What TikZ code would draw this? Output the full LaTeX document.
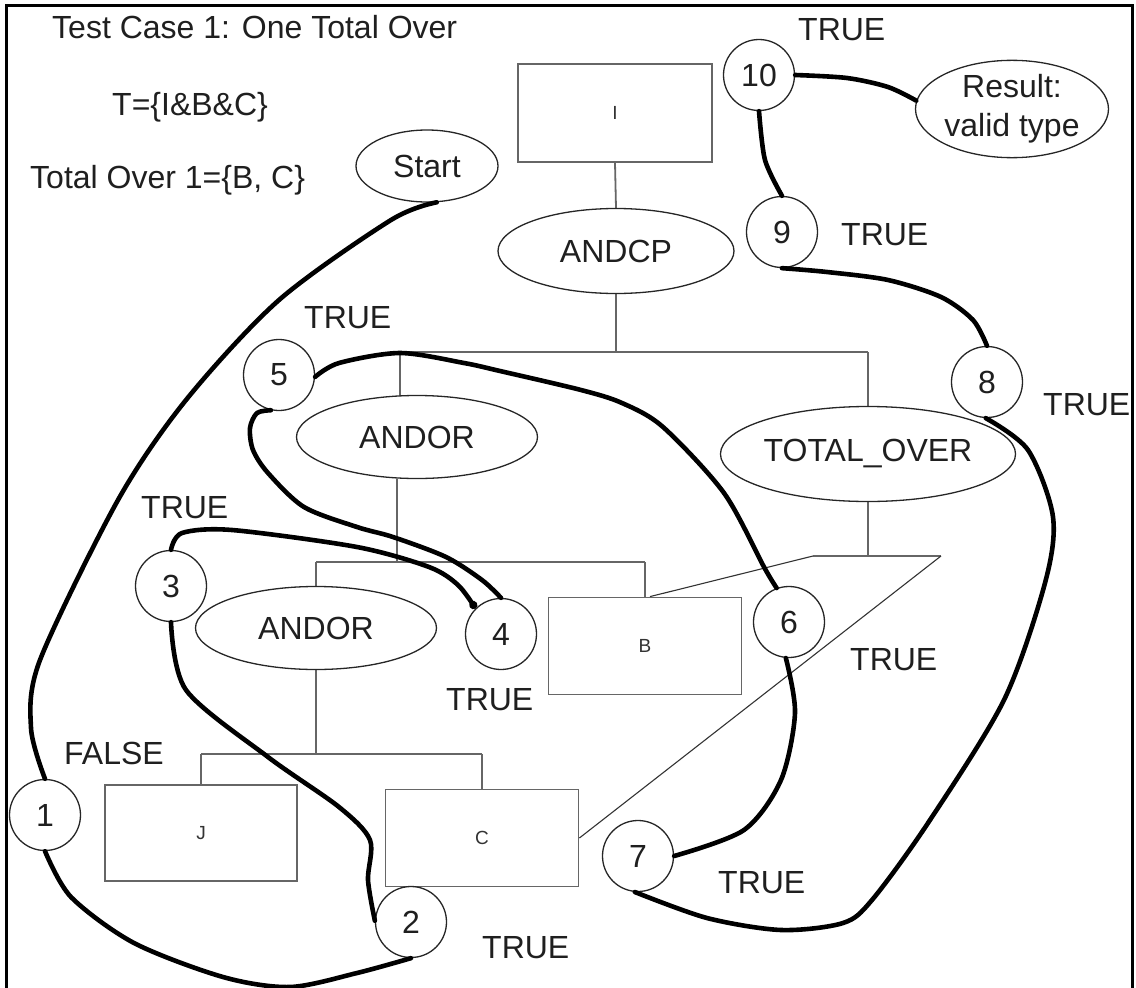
\documentclass[tikz,border=0pt]{standalone}
\usepackage{fontspec}
\setmainfont{Liberation Sans}
\usetikzlibrary{shapes.geometric,backgrounds,arrows.meta}
\begin{document}
\begin{tikzpicture}[x=1pt,y=-1pt,
  lbl/.style={font=\fontsize{32}{37}\selectfont, text=black!88, inner sep=0pt, anchor=base west},
  oval/.style={ellipse, draw=black!85, line width=1.3pt, fill=white, inner sep=0pt,
    text=black!88, font=\fontsize{32}{37}\selectfont},
  stepnum/.style={circle, draw=black!85, line width=1.3pt, fill=white, minimum size=71pt,
    inner sep=0pt, text=black!88, font=\fontsize{32}{37}\selectfont},
  leafbox/.style={rectangle, draw=black!60, line width=1.8pt, fill=white, inner sep=0pt,
    text=black!80, font=\fontsize{19}{22}\selectfont},
  tree/.style={draw=black!60, line width=1.8pt},
  guide/.style={draw=black!80, line width=1.1pt},
  trail/.style={line width=4.6pt, line cap=round, line join=round, black},
]
\useasboundingbox (0,0) rectangle (1136,988);

% frame
\draw[line width=3pt] (6,995) -- (6,5) -- (1132,5) -- (1132,995);

% heading texts
\node[lbl] (title) at (52,38) {Test Case 1: One Total Over};
\node[lbl] (tset) at (112,115) {T=\{I\&B\&C\}};
\node[lbl] (tover) at (30,188) {Total Over 1=\{B, C\}};

% type tree
\node[leafbox, minimum width=194pt, minimum height=98pt] (irect) at (615,113) {I};
\node[oval, minimum width=236pt, minimum height=85pt] (andcp) at (616,251) {ANDCP};
\node[oval, minimum width=241pt, minimum height=83pt] (andorA) at (417,437) {ANDOR};
\node[oval, minimum width=240pt, minimum height=95pt] (totover) at (868,454) {TOTAL\_OVER};
\node[oval, minimum width=241pt, minimum height=83pt] (andorB) at (316,628) {ANDOR};
\node[leafbox, minimum width=193pt, minimum height=97pt] (rectB) at (645,646) {B};
\node[leafbox, minimum width=192pt, minimum height=96pt] (rectJ) at (201,833) {J};
\node[leafbox, minimum width=193pt, minimum height=97pt] (rectC) at (482,838) {C};

% start and result
\node[oval, minimum width=142pt, minimum height=72pt] (start) at (427,166) {Start};
\node[oval, minimum width=193pt, minimum height=92pt, align=center,
  font=\fontsize{32}{39}\selectfont] (result) at (1012,109) {Result:\\valid type};

% evaluation steps
\node[stepnum] (c1) at (45,815) {1};
\node[stepnum] (c2) at (411,922) {2};
\node[stepnum] (c3) at (171,586) {3};
\node[stepnum] (c4) at (501,634) {4};
\node[stepnum] (c5) at (279,375) {5};
\node[stepnum] (c6) at (789,622) {6};
\node[stepnum] (c7) at (638,856) {7};
\node[stepnum] (c8) at (987,382) {8};
\node[stepnum] (c9) at (782,232) {9};
\node[stepnum] (c10) at (759,75) {10};

% step outcomes
\node[lbl] (v10) at (798,40) {TRUE};
\node[lbl] (v9) at (841,245) {TRUE};
\node[lbl] (v5) at (304,328) {TRUE};
\node[lbl] (v8) at (1043,415) {TRUE};
\node[lbl] (v3) at (141,518) {TRUE};
\node[lbl] (v4) at (446,710) {TRUE};
\node[lbl] (v6) at (850,670) {TRUE};
\node[lbl] (v1) at (64,764) {FALSE};
\node[lbl] (v7) at (718,893) {TRUE};
\node[lbl] (v2) at (482,958) {TRUE};

% bus junctions of the tree
\coordinate (busA) at (616,352);
\coordinate (busAl) at (400,352);
\coordinate (busAr) at (868,352);
\coordinate (busBm) at (397,562);
\coordinate (busBl) at (316,562);
\coordinate (busBr) at (645,562);
\coordinate (busCm) at (316,754);
\coordinate (busCl) at (201,754);
\coordinate (busCr) at (482,754);
\coordinate (busDm) at (868,556);
\coordinate (busDl) at (813,556);
\coordinate (busDr) at (941,556);

\begin{pgfonlayer}{background}
  \draw[tree] (irect.south) -- (andcp.north);
  \draw[tree] (andcp.south) -- (busA);
  \draw[tree] (busAl) -- (busAr);
  \draw[tree] (busAl) -- (busAl |- andorA.center);
  \draw[tree] (busAr) -- (totover.north);
  \draw[tree] (andorA.south -| busBm) -- (busBm);
  \draw[tree] (busBl) -- (busBr);
  \draw[tree] (busBl) -- (andorB.north);
  \draw[tree] (busBr) -- (rectB.north);
  \draw[tree] (andorB.south) -- (busCm);
  \draw[tree] (busCl) -- (busCr);
  \draw[tree] (busCl) -- (rectJ.north);
  \draw[tree] (busCr) -- (rectC.north);
  \draw[tree] (totover.south) -- (busDm);
  \draw[tree] (busDl) -- (busDr);
  \draw[guide] (busDl) -- ([xshift=5pt]rectB.north);
  \draw[guide] (busDr) -- (rectC.east);
\end{pgfonlayer}

% evaluation trail
\draw[trail] plot[smooth] coordinates {(c1.north) (31,728) (40,660) (118,500) (186,400) (279,300) (391,220) (start.-75)};
\draw[trail] plot[smooth] coordinates {(c1.south) (71,897) (134,943) (223,977) (290,987) (357,973) (c2.south)};
\draw[trail] plot[smooth] coordinates {(c3.south) (186,690) (268,757) (339,807) (370,840) (368,880) (c2.178)};
\draw[trail, -{Circle[length=8pt]}] plot[smooth] coordinates {(c3.north) (182,533) (232,530) (357,547) (429,567) (458,585) (c4.135)};
\draw[trail] plot[smooth] coordinates {(c5.-103) (257,413) (250,428) (253,450) (268,473) (304,507) (357,527) (393,537) (446,557) (482,580) (c4.north)};
\draw[trail] plot[smooth] coordinates {(c5.-3) (339,363) (400,353) (464,363) (500,371) (581,390) (622,403) (663,427) (724,493) (764,567) (c6.110)};
\draw[trail] plot[smooth] coordinates {(c6.-95) (795,713) (781,780) (744,830) (c7.east)};
\draw[trail] plot[smooth] coordinates {(c7.-95) (707,918) (781,930) (843,923) (872,900) (928,823) (1004,700) (1045,583) (1053,517) (1028,450) (c8.-92)};
\draw[trail] plot[smooth] coordinates {(c8.north) (973,320) (941,297) (888,280) (827,272) (c9.south)};
\draw[trail] plot[smooth] coordinates {(c9.north) (765,160) (c10.south)};
\draw[trail] plot[smooth] coordinates {(c10.east) (847,78) (888,87) (result.175)};
\end{tikzpicture}
\end{document}
